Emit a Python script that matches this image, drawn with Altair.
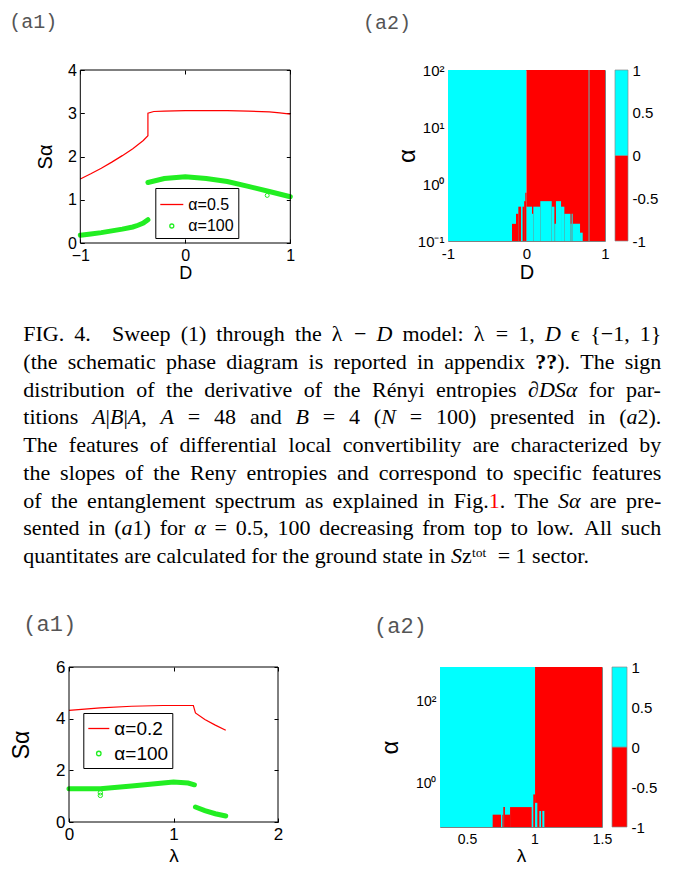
import re
import altair as alt
import pandas as pd

SANS = "Liberation Sans"
SERIF = "Liberation Serif"
MONO = "Liberation Mono"
RED = "#ff0000"
GREEN = "#22ee22"
CYAN = "#00ffff"
GREY = "#8a8a8a"

# ================= data: top (a1)  S_alpha vs D =================
a1_series = ["α=0.5", "α=100"]
a1_xdom = [-1, 1]
a1_ydom = [0, 4]
a1_xticks = [-1.0, 0.0, 1.0]
a1_yticks = [0, 1, 2, 3, 4]
a1_red_D = [-1.0, -0.9, -0.8, -0.7, -0.6, -0.5, -0.4, -0.356, -0.356, -0.3, -0.2, 0.0, 0.2, 0.4, 0.6, 0.8, 0.9, 1.0]
a1_red_S = [1.48, 1.60, 1.73, 1.87, 2.02, 2.18, 2.37, 2.48, 3.00, 3.04, 3.05, 3.06, 3.06, 3.06, 3.05, 3.03, 3.01, 2.98]
a1_grn_lo_D = [-1.0, -0.9, -0.8, -0.7, -0.6, -0.5, -0.45, -0.4, -0.356]
a1_grn_lo_S = [0.18, 0.21, 0.24, 0.28, 0.32, 0.37, 0.41, 0.46, 0.54]
a1_grn_hi_D = [-0.356, -0.2, 0.0, 0.2, 0.4, 0.6, 0.8, 1.0]
a1_grn_hi_S = [1.40, 1.49, 1.53, 1.49, 1.42, 1.31, 1.19, 1.07]
a1_out_D = [0.78]
a1_out_S = [1.10]

# ================= data: top (a2)  sign of dS/dD =================
a2_xticks = [-1.0, 0.0, 1.0]
a2_yticks = [0.1, 1, 10, 100]
a2_D0 = [-1.0, 0.0, -0.185, -0.134, -0.104, -0.05, -0.03, -0.015, 0.0, 0.07, 0.087, 0.176, 0.321, 0.355, 0.375, 0.44, 0.482, 0.56, 0.575, 0.588, 0.682, 0.788]
a2_D1 = [0.0, 1.0, -0.134, -0.104, -0.07, -0.03, 0.0, 0.0, 0.07, 0.087, 0.176, 0.321, 0.355, 0.375, 0.44, 0.482, 0.56, 0.575, 0.588, 0.682, 0.716, 0.805]
a2_lo = [0.1, 0.1, 0.1, 0.1, 0.1, 0.1, 0.1, 0.5, 0.1, 0.1, 0.1, 0.1, 0.1, 0.1, 0.1, 0.1, 0.1, 0.1, 0.1, 0.1, 0.1, 0.1]
a2_hi = [100, 100, 0.2, 0.3, 0.4, 0.4, 0.5, 0.7, 0.4, 0.3, 0.4, 0.5, 0.4, 0.2, 0.5, 0.4, 0.3, 0.2, 0.3, 0.2, 0.14, 100]
a2_sign = [1, -1, -1, -1, -1, -1, -1, -1, 1, 1, 1, 1, 1, 1, 1, 1, 1, 1, 1, 1, 1, 0]

# ================= data: bottom (a1)  S_alpha vs lambda =================
b1_series = ["α=0.2", "α=100"]
b1_xdom = [0, 2]
b1_ydom = [0, 6]
b1_xticks = [0.0, 1.0, 2.0]
b1_yticks = [0, 2, 4, 6]
b1_red_L = [0.0, 0.3, 0.6, 0.9, 1.19, 1.21, 1.3, 1.4, 1.5]
b1_red_S = [4.32, 4.42, 4.48, 4.51, 4.51, 4.22, 3.97, 3.75, 3.55]
b1_grn_hi_L = [0.0, 0.3, 0.6, 0.9, 1.0, 1.14, 1.2]
b1_grn_hi_S = [1.29, 1.29, 1.39, 1.51, 1.55, 1.51, 1.44]
b1_grn_lo_L = [1.21, 1.3, 1.4, 1.5]
b1_grn_lo_S = [0.58, 0.44, 0.32, 0.23]
b1_out_L = [0.3, 0.3]
b1_out_S = [1.03, 1.13]

# ================= data: bottom (a2)  sign of dS/dlambda =================
b2_xticks = [0.5, 1.0, 1.5]
b2_yticks = [1, 100]
b2_L0 = [0.3, 1.004, 0.690, 0.762, 0.769, 0.781, 0.819, 0.991, 1.004, 1.036, 1.058]
b2_L1 = [1.004, 1.5, 0.752, 0.769, 0.781, 0.819, 0.979, 1.004, 1.021, 1.048, 1.073]
b2_lo = [0.085] * 11
b2_hi = [680, 680, 0.17, 0.17, 0.26, 0.17, 0.26, 0.53, 0.33, 0.21, 0.21]
b2_sign = [1, -1, -1, -1, -1, -1, -1, -1, 1, 1, 1]

# colour bar
cb_lo = [-1, 0]
cb_hi = [0, 1]
cb_sign = [-1, 1]
cb_ticks = [-1, -0.5, 0, 0.5, 1]

# caption (*italic*, !bold!, ^red^)
caption_lines = [
    "FIG. 4.   Sweep (1) through the λ − *D* model: λ = 1, *D* ϵ {−1, 1}",
    "(the schematic phase diagram is reported in appendix !??!). The sign",
    "distribution of the derivative of the Rényi entropies ∂*DSα* for par-",
    "titions *A*|*B*|*A*, *A* = 48 and *B* = 4 (*N* = 100) presented in (*a*2).",
    "The features of differential local convertibility are characterized by",
    "the slopes of the Reny entropies and correspond to specific features",
    "of the entanglement spectrum as explained in Fig.^1^. The *Sα* are pre-",
    "sented in (*a*1) for *α* = 0.5, 100 decreasing from top to low. All such",
    "quantitates are calculated for the ground state in *S*zᵗᵒᵗ = 1 sector.",
]

# ---------------- layout constants (pixels) ----------------
X0 = 67.7          # absolute x of the common column origin
CAP_FS = 22
CAP_LEFT, CAP_RIGHT = 22, 660
CAP_LINE = 27.75
CAP_FIRST = 27     # baseline of first caption line inside caption view
CAP_H = 267

# Times / Liberation Serif advance widths (1/1000 em)
TW = {' ': 250, '!': 333, '(': 333, ')': 333, ',': 250, '-': 333, '.': 250, ':': 278,
      '=': 564, '?': 444, '{': 480, '|': 200, '}': 480, 'é': 444, 'λ': 550, 'α': 520,
      '−': 564, 'ϵ': 420, '∂': 494, 'ᵗ': 300, 'ᵒ': 330}
for ch in "0123456789":
    TW[ch] = 500
for ch, w in zip("ABCDEFGHIJKLMNOPQRSTUVWXYZ",
                 [722, 667, 667, 722, 611, 556, 722, 722, 333, 389, 722, 611, 889, 722, 722,
                  556, 722, 667, 556, 611, 722, 722, 944, 722, 722, 611]):
    TW[ch] = w
for ch, w in zip("abcdefghijklmnopqrstuvwxyz",
                 [444, 500, 444, 500, 444, 333, 500, 500, 278, 278, 500, 278, 778, 500, 500,
                  500, 500, 333, 389, 278, 500, 500, 722, 500, 500, 444]):
    TW[ch] = w
TW_IT = {'A': 611, 'B': 611, 'D': 722, 'N': 667, 'S': 500, 'a': 500}
TW_BF = {'?': 500}


def tw(s, style="n"):
    tab = TW_IT if style == "i" else (TW_BF if style == "b" else {})
    return sum(tab.get(c, TW.get(c, 500)) for c in s) * CAP_FS / 1000.0


def caption_rows():
    rows = []
    state = {"it": False, "bf": False, "red": False}
    n = len(caption_lines)
    for li, line in enumerate(caption_lines):
        parts = [p for p in re.split(r"( +)", line) if p != ""]
        words, gaps = [], []
        for p in parts:
            if p.startswith(" "):
                gaps.append(len(p))
            else:
                segs, cur = [], ""
                for ch in p:
                    if ch in "*!^":
                        if cur:
                            segs.append((cur, dict(state)))
                            cur = ""
                        key = {"*": "it", "!": "bf", "^": "red"}[ch]
                        state[key] = not state[key]
                    else:
                        cur += ch
                if cur:
                    segs.append((cur, dict(state)))
                words.append([(s, "r" if st["red"] else ("b" if st["bf"] else ("i" if st["it"] else "n")))
                              for s, st in segs])
        wwidth = [sum(tw(s, sty) for s, sty in w) for w in words]
        natural = sum(wwidth) + sum(g * tw(" ") for g in gaps)
        extra = 0.0
        if li < n - 1 and gaps:
            extra = ((CAP_RIGHT - CAP_LEFT) - natural) / len(gaps)
        x = CAP_LEFT
        for wi, segs in enumerate(words):
            for s, sty in segs:
                rows.append({"line": li, "px": x - X0, "txt": s, "st": sty})
                x += tw(s, sty)
            if wi < len(gaps):
                x += gaps[wi] * tw(" ") + extra
    return pd.DataFrame(rows)


NUM_LABEL = "datum.value < 0 ? '−' + format(-datum.value, '~g') : format(datum.value, '~g')"
HYPH_LABEL = "datum.value < 0 ? '-' + format(-datum.value, '~g') : format(datum.value, '~g')"


def main_axis(orient, values, title, fs, tfs, lpad, tpad, offset=-4):
    return alt.Axis(orient=orient, values=values, title=title, offset=offset, tickSize=4,
                    ticks=True, tickColor="black", tickWidth=1, domain=False, grid=False,
                    labelExpr=NUM_LABEL, labelFont=SANS, labelFontSize=fs, labelColor="black",
                    labelPadding=lpad, labelFlush=False, labelOverlap=False, labelBound=False,
                    titleFont=SANS, titleFontSize=tfs, titleFontWeight="normal",
                    titleColor="black", titlePadding=tpad)


def tick_axis(orient, values):
    return alt.Axis(orient=orient, values=values, title=None, labels=False, offset=-4,
                    tickSize=4, tickColor="black", tickWidth=1, domain=False, grid=False)


def panel_title(text, dx, offset, fs):
    return alt.Title(text, anchor="start", frame="group", dx=dx, offset=offset,
                     font=MONO, fontSize=fs, fontWeight="normal", color="#555555")


def s_panel(red_x, red_y, g1_x, g1_y, g2_x, g2_y, out_x, out_y, series,
            xdom, xvals, ydom, yvals, xtitle, W, H, shift, fs, tfx, tfy,
            ylpad, ytpad, xlpad, xtpad, leg_x, leg_y, leg_fs, stroke_len, circ, title):
    df_red = pd.DataFrame({"x": red_x, "y": red_y, "i": list(range(len(red_x)))})
    df_g = pd.DataFrame({
        "x": g1_x + g2_x,
        "y": g1_y + g2_y,
        "branch": ["a"] * len(g1_x) + ["b"] * len(g2_x),
        "i": list(range(len(g1_x) + len(g2_x))),
    })
    df_o = pd.DataFrame({"x": out_x, "y": out_y, "series": [series[1]] * len(out_x)})
    df_box = pd.DataFrame({"x0": [xdom[0]], "x1": [xdom[1]], "y0": [ydom[0]], "y1": [ydom[1]]})
    xs = alt.Scale(domain=xdom, nice=False, zero=False, range=[shift, shift + W])
    ys = alt.Scale(domain=ydom, nice=False, zero=False)
    box = alt.Chart(df_box).mark_rect(fill="transparent", stroke="black", strokeWidth=1).encode(
        x=alt.X("x0:Q", scale=xs, axis=None), x2="x1:Q",
        y=alt.Y("y0:Q", scale=ys, axis=None), y2="y1:Q")
    red = alt.Chart(df_red).mark_line(color=RED, strokeWidth=1.2).encode(
        x=alt.X("x:Q", scale=xs, axis=main_axis("bottom", xvals, xtitle, fs, tfx, xlpad, xtpad)),
        y=alt.Y("y:Q", scale=ys, axis=main_axis("left", yvals, "Sα", fs, tfy, ylpad, ytpad,
                                                offset=-(shift + 4))),
        order="i:Q",
    )
    green = alt.Chart(df_g).mark_line(color=GREEN, strokeWidth=5, strokeCap="round").encode(
        x=alt.X("x:Q", scale=xs, axis=tick_axis("top", xvals)),
        y=alt.Y("y:Q", scale=ys, axis=tick_axis("right", yvals)),
        detail="branch:N",
        order="i:Q",
    )
    leg = alt.Legend(orient="none", legendX=leg_x, legendY=leg_y, title=None,
                     strokeColor="black", fillColor="white", padding=4, cornerRadius=0,
                     labelFont=SANS, labelFontSize=leg_fs, labelColor="black",
                     labelOffset=4, rowPadding=5, symbolStrokeWidth=1.3)
    pts = alt.Chart(df_o).mark_point(filled=False, strokeWidth=1, opacity=1).encode(
        x=alt.X("x:Q", scale=xs, axis=None),
        y=alt.Y("y:Q", scale=ys, axis=None),
        color=alt.Color("series:N", scale=alt.Scale(domain=series, range=[RED, GREEN]), legend=leg),
        shape=alt.Shape("series:N", scale=alt.Scale(domain=series, range=["stroke", "circle"]), legend=leg),
        size=alt.Size("series:O", scale=alt.Scale(type="point", domain=series,
                                                 range=[stroke_len ** 2, circ], padding=0), legend=leg),
    )
    return alt.layer(red, green, pts, box).properties(
        width=shift + W, height=H, title=title,
        view=alt.ViewBackground(stroke="transparent"))


def heat_panel(x0, x1, lo, hi, sg, xdom, ydom, xvals, yvals, xtitle, W, H, cb_w,
               fs, tfx, tfy, ylpad, ytpad, xlpad, xtpad, cb_fs, title):
    df = pd.DataFrame({"x0": x0, "x1": x1, "lo": lo, "hi": hi, "s": sg})
    df_cb = pd.DataFrame({"c0": [0, 0], "c1": [1, 1], "v0": cb_lo, "v1": cb_hi, "s": cb_sign})
    cscale = alt.Scale(domain=[1, -1, 0], range=[CYAN, RED, GREY])
    ylab = ("datum.value < 0.5 ? '10⁻¹' : datum.value < 5 ? '10⁰' : "
            "datum.value < 50 ? '10¹' : '10²'")
    heat = alt.Chart(df).mark_rect(strokeWidth=0).encode(
        x=alt.X("x0:Q", scale=alt.Scale(domain=xdom, nice=False, zero=False),
                axis=alt.Axis(orient="bottom", values=xvals, title=xtitle,
                              ticks=False, domain=False, labelExpr=HYPH_LABEL,
                              grid=False, labelFont=SANS, labelFontSize=fs, labelColor="black",
                              labelPadding=xlpad, labelFlush=False, labelOverlap=False,
                              labelBound=False,
                              titleFont=SANS, titleFontSize=tfx, titleFontWeight="normal",
                              titleColor="black", titlePadding=xtpad)),
        x2="x1:Q",
        y=alt.Y("lo:Q", scale=alt.Scale(type="log", domain=ydom, nice=False),
                axis=alt.Axis(orient="left", values=yvals, title="α", ticks=False, domain=False,
                              grid=False, labelFont=SANS, labelFontSize=fs, labelColor="black",
                              labelPadding=ylpad, labelFlush=False, labelOverlap=False,
                              labelExpr=ylab, titleFont=SANS, titleFontSize=tfy,
                              titleFontWeight="normal", titleColor="black", titlePadding=ytpad)),
        y2="hi:Q",
        color=alt.Color("s:N", scale=cscale, legend=None),
    )
    cb = alt.Chart(df_cb).mark_rect(stroke=GREY, strokeWidth=0.7).encode(
        x=alt.X("c0:Q", scale=alt.Scale(domain=[0, 1], range=[W + 10, W + 10 + cb_w]), axis=None),
        x2="c1:Q",
        y=alt.Y("v0:Q", scale=alt.Scale(domain=[-1, 1], nice=False, zero=False),
                axis=alt.Axis(orient="right", offset=10 + cb_w, values=cb_ticks, title=None,
                              ticks=False, domain=False, grid=False, labelExpr=HYPH_LABEL,
                              labelFont=SANS, labelFontSize=cb_fs,
                              labelColor="black", labelPadding=4, labelFlush=False,
                              labelOverlap=False)),
        y2="v1:Q",
        color=alt.Color("s:N", scale=cscale, legend=None),
    )
    return alt.layer(heat, cb).resolve_scale(x="independent", y="independent").properties(
        width=W, height=H, title=title,
        view=alt.ViewBackground(stroke="#808080", strokeWidth=1))


A1 = s_panel(a1_red_D, a1_red_S, a1_grn_lo_D, a1_grn_lo_S, a1_grn_hi_D, a1_grn_hi_S,
             a1_out_D, a1_out_S, a1_series, a1_xdom, a1_xticks, a1_ydom, a1_yticks, "D",
             210, 173, 79 - X0, 16, 18, 20, 4, 12, 4, 1, 154 - X0, 118, 16, 23, 16,
             panel_title("(a1)", 8 - X0, 30, 20))

A2 = heat_panel(a2_D0, a2_D1, a2_lo, a2_hi, a2_sign, [-1, 1], [0.1, 100], a2_xticks,
                a2_yticks, "D", 157, 171, 13, 15, 20, 24, 4, -2, 5, 1, 15,
                panel_title("(a2)", -85, 30, 20))

B1 = s_panel(b1_red_L, b1_red_S, b1_grn_hi_L, b1_grn_hi_S, b1_grn_lo_L, b1_grn_lo_S,
             b1_out_L, b1_out_S, b1_series, b1_xdom, b1_xticks, b1_ydom, b1_yticks, "λ",
             209, 155, 0, 17, 19, 23, 4, 22, 4, 4, 82 - X0, 46, 19, 21, 20,
             panel_title("(a1)", 22 - X0, 22, 22))

B2 = heat_panel(b2_L0, b2_L1, b2_lo, b2_hi, b2_sign, [0.3, 1.5], [0.085, 680], b2_xticks,
                b2_yticks, "λ", 162, 160, 15, 14, 19, 24, 4, 13, 5, 0, 15,
                panel_title("(a2)", -66, 22, 22))

df_cap = caption_rows()
cap_y = alt.Y("line:Q", scale=alt.Scale(domain=[0, 8],
                                        range=[CAP_FIRST, CAP_FIRST + 8 * CAP_LINE]), axis=None)
cap_layers = []
for st, kw in [("n", {}), ("i", {"fontStyle": "italic"}), ("b", {"fontWeight": "bold"}),
               ("r", {"color": RED})]:
    base = dict(align="left", baseline="alphabetic", font=SERIF, fontSize=CAP_FS, color="black")
    base.update(kw)
    cap_layers.append(
        alt.Chart(df_cap).transform_filter(alt.datum.st == st).mark_text(**base).encode(
            x=alt.X("px:Q", scale=None), y=cap_y, text="txt:N"))
caption = alt.layer(*cap_layers).properties(
    width=555, height=CAP_H, view=alt.ViewBackground(stroke="transparent"))

row1 = alt.hconcat(A1, A2, spacing=61).resolve_scale(color="independent", shape="independent",
                                                      size="independent")
row2 = alt.hconcat(B1, B2, spacing=89).resolve_scale(color="independent", shape="independent",
                                                      size="independent")

chart = alt.vconcat(row1, caption, row2, spacing=30).resolve_scale(
    color="independent", shape="independent", size="independent").properties(
    padding={"left": 0, "top": 3, "right": 0, "bottom": 0},
    background="white",
)

chart.save("out.html", embed_options={"renderer": "svg", "actions": False})
